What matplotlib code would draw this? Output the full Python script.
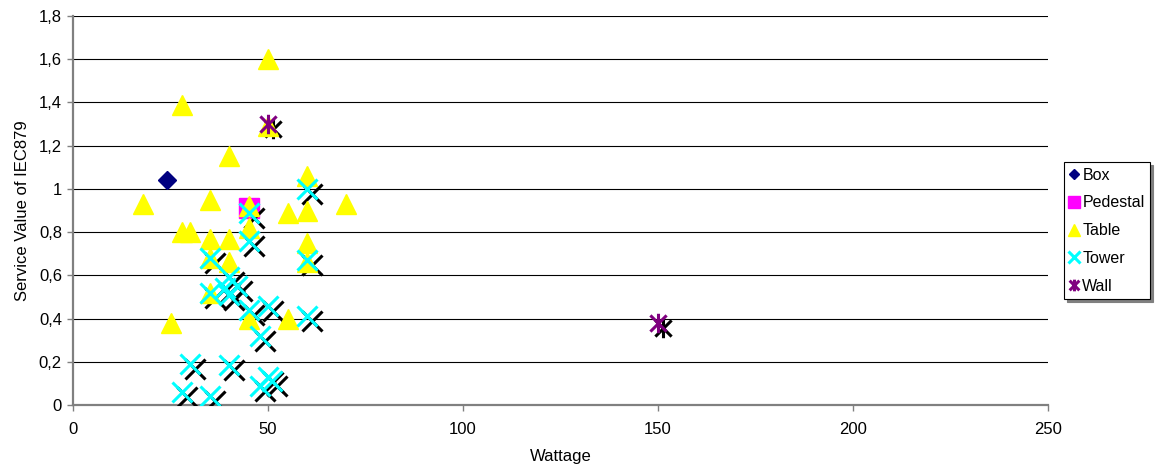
import numpy as np
import matplotlib
matplotlib.use('Agg')
import matplotlib.pyplot as plt
from matplotlib.path import Path
from matplotlib.transforms import offset_copy
from matplotlib.ticker import FuncFormatter, MultipleLocator

plt.rcParams['font.family'] = ['Liberation Sans', 'DejaVu Sans']
plt.rcParams['font.size'] = 12

# data (Wattage, service value)
box_x = [24]
box_y = [1.04]

pedestal_x = [45]
pedestal_y = [0.91]

table_x = [50, 28, 40, 18, 35, 45, 55, 60, 60, 70, 28, 30, 35, 40, 45, 60,
           35, 40, 60, 35, 25, 45, 55, 50]
table_y = [1.6, 1.39, 1.15, 0.93, 0.95, 0.92, 0.89, 1.06, 0.9, 0.93, 0.8, 0.8,
           0.77, 0.77, 0.82, 0.75, 0.68, 0.66, 0.66, 0.52, 0.38, 0.4, 0.4, 1.29]

tower_x = [60, 45, 45, 35, 60, 40, 42, 39, 40, 35, 45, 50, 60, 48, 30, 40,
           50, 51, 48, 28, 35]
tower_y = [1.0, 0.89, 0.76, 0.68, 0.67, 0.59, 0.55, 0.54, 0.51, 0.52, 0.44,
           0.46, 0.41, 0.32, 0.19, 0.185, 0.13, 0.11, 0.09, 0.06, 0.04]

wall_x = [50, 150]
wall_y = [1.3, 0.38]

# excel style asterisk: X with a vertical bar
star = Path([(-1, -1), (1, 1), (-1, 1), (1, -1), (0, -1.2), (0, 1.2)],
            [Path.MOVETO, Path.LINETO, Path.MOVETO, Path.LINETO,
             Path.MOVETO, Path.LINETO])

fig = plt.figure(figsize=(11.57, 4.72), dpi=100)
ax = fig.add_axes([0.0631, 0.142, 0.8427, 0.824])

shadow = offset_copy(ax.transData, fig=fig, x=5, y=-5, units='dots')

ax.plot(box_x, box_y, ls='none', marker='D', ms=9, color='#000080',
        mec='#000080', label='Box', zorder=3)
ax.plot(pedestal_x, pedestal_y, ls='none', marker='s', ms=14, color='#FF00FF',
        mec='#FF00FF', label='Pedestal', zorder=3)
ax.plot(table_x, table_y, ls='none', marker='^', ms=15, color='#FFFF00',
        mec='#FFFF00', label='Table', zorder=4)
# black shadows for the line markers
ax.plot(tower_x, tower_y, ls='none', marker='x', ms=15, mew=2.2,
        color='black', transform=shadow, zorder=3.5)
ax.plot(wall_x, wall_y, ls='none', marker=star, ms=14, mew=2.2,
        color='black', transform=shadow, zorder=3.5)
ax.plot(tower_x, tower_y, ls='none', marker='x', ms=15, mew=2.2,
        color='#00FFFF', label='Tower', zorder=5)
ax.plot(wall_x, wall_y, ls='none', marker=star, ms=14, mew=2.2,
        color='#800080', label='Wall', zorder=5)

ax.set_xlim(0, 250)
ax.set_ylim(0, 1.8)
ax.xaxis.set_major_locator(MultipleLocator(50))
ax.yaxis.set_major_locator(MultipleLocator(0.2))
ax.yaxis.set_major_formatter(FuncFormatter(lambda v, p: ('%g' % round(v, 2)).replace('.', ',')))
ax.grid(axis='y', color='black', lw=0.8)
ax.set_axisbelow(True)

for s in ['top', 'right']:
    ax.spines[s].set_visible(False)
for s in ['left', 'bottom']:
    ax.spines[s].set_color('#808080')
    ax.spines[s].set_linewidth(1.6)
ax.tick_params(direction='out', length=4, width=1, color='#808080', labelsize=12)
ax.tick_params(axis='x', pad=8)
ax.tick_params(axis='y', pad=4)

ax.set_xlabel('Wattage', fontsize=12, labelpad=9)
ax.set_ylabel('Service Value of IEC879', fontsize=12, labelpad=6)

leg = ax.legend(loc='upper left', bbox_to_anchor=(1064 / 1157, 1 - 162 / 472),
                bbox_transform=fig.transFigure, frameon=True, fancybox=False,
                edgecolor='black', shadow={'color': '#808080', 'alpha': 1},
                markerscale=0.6, handlelength=0.6, handletextpad=0.2,
                labelspacing=0.8, borderpad=0.35, fontsize=11.5, borderaxespad=0)
leg.get_frame().set_linewidth(0.8)

plt.savefig('out.png', dpi=100)
